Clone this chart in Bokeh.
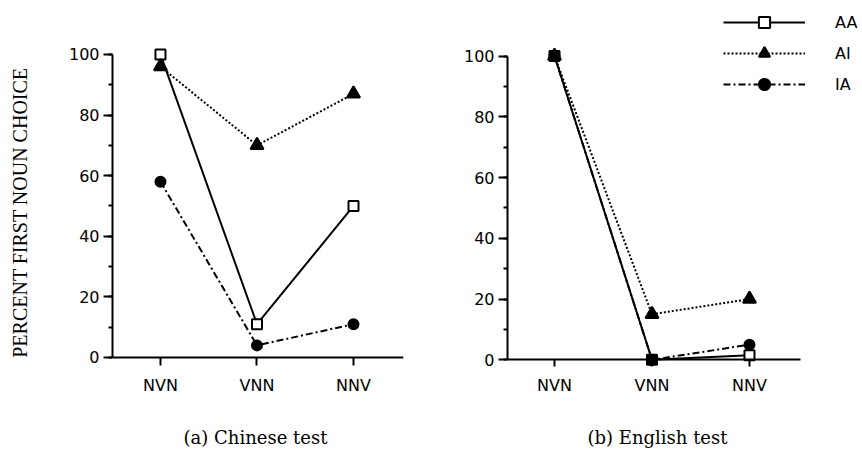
import math
from bokeh.plotting import figure
from bokeh.layouts import row, column
from bokeh.models import (Range1d, FixedTicker, SingleIntervalTicker, Legend, LegendItem,
                          Label, LinearAxis)
from bokeh.embed import file_html
from bokeh.resources import INLINE

categories = ["NVN", "VNN", "NNV"]
series_names = ["AA", "AI", "IA"]
chinese_AA = [100, 11, 50]
chinese_AI = [96, 70, 87]
chinese_IA = [58, 4, 11]
english_AA = [100, 0, 1.5]
english_AI = [100, 15, 20]
english_IA = [100, 0, 5]
y_ticks_interval = 20
ylabel = "PERCENT FIRST NOUN CHOICE"
titles = ["(a) Chinese test", "(b) English test"]

xs = list(range(len(categories)))

SANS = "DejaVu Sans"
SERIF = "Liberation Serif"
TITLE_SERIF = "DejaVu Serif"

styles = {
    "AA": dict(dash="solid", marker="square", size=10, fill="white"),
    "AI": dict(dash="2 2", marker="triangle", size=13, fill="black"),
    "IA": dict(dash="7 3 2 3", marker="circle", size=10, fill="black"),
}

FRAME_TOP = 10
FRAME_H = 356
BOTTOM = 34
FRAME_BOTTOM = FRAME_TOP + FRAME_H
TOP_H = FRAME_TOP + FRAME_H + BOTTOM
TOTAL_W = 861
TOTAL_H = 451


def blank(width, height, top=0, bottom=0):
    f = figure(output_backend="svg", toolbar_location=None, width=width, height=height,
               min_border_left=0, min_border_right=0,
               min_border_top=top, min_border_bottom=bottom,
               x_axis_location=None, y_axis_location=None,
               x_range=Range1d(0, 1), y_range=Range1d(0, 1))
    f.outline_line_color = None
    f.xgrid.visible = False
    f.ygrid.visible = False
    return f


def make_panel(data, xr, yr, xbounds, fw, mbl, mbr, with_legend):
    p = figure(output_backend="svg", toolbar_location=None,
               frame_width=fw, frame_height=FRAME_H,
               min_border_left=mbl, min_border_right=mbr,
               min_border_top=FRAME_TOP, min_border_bottom=BOTTOM,
               x_range=Range1d(*xr), y_range=Range1d(*yr),
               x_axis_location=None)
    p.outline_line_color = None
    p.xgrid.visible = False
    p.ygrid.visible = False
    p.background_fill_color = "white"
    p.border_fill_color = "white"

    # x axis line + ticks drawn at y = 0
    xline = LinearAxis(fixed_location=0, bounds=xbounds,
                       ticker=FixedTicker(ticks=xs),
                       major_tick_in=8, major_tick_out=0,
                       major_tick_line_width=2, major_tick_line_color="black",
                       minor_tick_line_color=None,
                       axis_line_width=2, axis_line_color="black",
                       major_label_text_color=None, major_label_text_font_size="1px",
                       major_label_standoff=0)
    p.add_layout(xline, "above")

    # category labels below the frame
    xlab = LinearAxis(ticker=FixedTicker(ticks=xs),
                      major_label_overrides={i: c for i, c in enumerate(categories)},
                      axis_line_color=None, major_tick_line_color=None,
                      minor_tick_line_color=None, major_tick_out=0, major_tick_in=0,
                      major_label_standoff=9,
                      major_label_text_font=SANS, major_label_text_font_size="16px",
                      major_label_text_color="black")
    p.add_layout(xlab, "below")

    p.yaxis.bounds = (0, 100)
    p.yaxis.ticker = SingleIntervalTicker(interval=y_ticks_interval, num_minor_ticks=2)
    p.yaxis.major_tick_out = 9
    p.yaxis.major_tick_in = 0
    p.yaxis.minor_tick_out = 4
    p.yaxis.minor_tick_in = 0
    p.yaxis.major_label_standoff = 4
    p.yaxis.axis_line_width = 2
    p.yaxis.axis_line_color = "black"
    p.yaxis.major_tick_line_width = 2
    p.yaxis.major_tick_line_color = "black"
    p.yaxis.minor_tick_line_width = 2
    p.yaxis.minor_tick_line_color = "black"
    p.yaxis.major_label_text_font = SANS
    p.yaxis.major_label_text_font_size = "16px"
    p.yaxis.major_label_text_color = "black"

    items = []
    for name in series_names:
        st = styles[name]
        ys = data[name]
        lr = p.line(xs, ys, line_color="black", line_width=2, line_dash=st["dash"])
        mr = p.scatter(xs, ys, marker=st["marker"], size=st["size"],
                       fill_color=st["fill"], line_color="black", line_width=2)
        items.append(LegendItem(label=name, renderers=[lr, mr]))

    if with_legend:
        leg = Legend(items=items, location=(216, 268),
                     glyph_width=82, glyph_height=28, label_height=20,
                     spacing=3, padding=0, margin=0, label_standoff=30,
                     border_line_color=None, background_fill_alpha=0,
                     label_text_font=SANS, label_text_font_size="16px",
                     label_text_color="black")
        p.add_layout(leg, "center")
    return p


YL_W = 60
# y-axis title strip (frame aligned with the panels' frames)
ylab_fig = blank(YL_W, TOP_H, top=FRAME_TOP, bottom=BOTTOM)
ylab_fig.add_layout(Label(x=19.5, y=FRAME_BOTTOM - 212, x_units="screen", y_units="screen",
                          text=ylabel, angle=math.pi / 2, text_font=SERIF,
                          text_font_size="20px", text_align="center",
                          text_baseline="middle", text_color="black"))

left = make_panel({"AA": chinese_AA, "AI": chinese_AI, "IA": chinese_IA},
                  (-0.497, 2.518), (-2.97, 114.5), (-0.497, 2.518),
                  291, 112 - YL_W, 44, False)
right = make_panel({"AA": english_AA, "AI": english_AI, "IA": english_IA},
                   (-0.482, 3.149), (-2.2, 115.0), (-0.482, 2.523),
                   354, 60, 0, True)

# panel captions strip
cap_h = TOTAL_H - TOP_H
cap_fig = blank(TOTAL_W, cap_h)
for txt, cx in zip(titles, [255, 657]):
    cap_fig.add_layout(Label(x=cx, y=cap_h - (437 - TOP_H), x_units="screen", y_units="screen",
                             text=txt, text_font=TITLE_SERIF, text_font_size="18px",
                             text_align="center", text_baseline="middle", text_color="black"))

layout = column(row(ylab_fig, left, right), cap_fig)
open("out.html", "w").write(file_html(layout, INLINE))
